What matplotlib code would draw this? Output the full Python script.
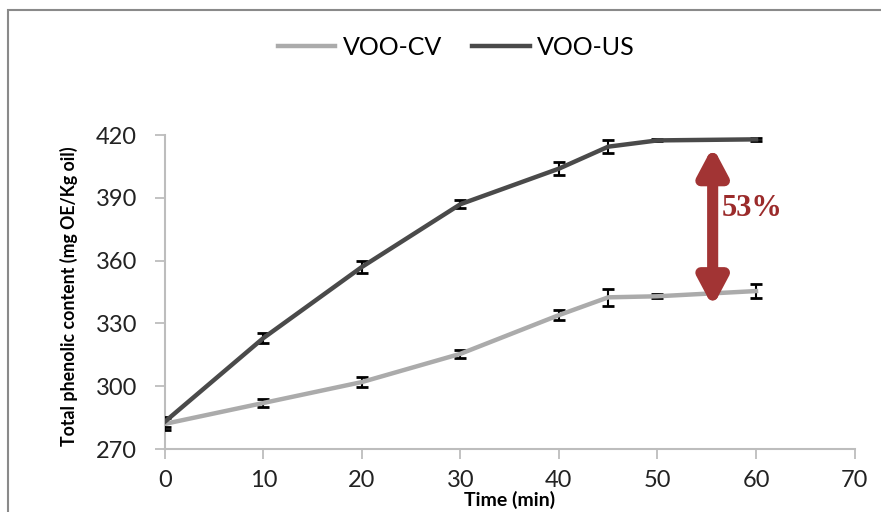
import matplotlib
matplotlib.use("Agg")
import matplotlib.pyplot as plt
from matplotlib.patches import Rectangle
from matplotlib.lines import Line2D

time_min = [0, 10, 20, 30, 40, 45, 50, 60]
voo_cv = [282, 292, 302, 315.5, 334, 342.5, 343, 345.5]
voo_cv_err = [3, 2, 2.5, 2, 2.5, 4, 1, 3.5]
voo_us = [283, 323, 357, 387, 404, 414.5, 417.5, 418]
voo_us_err = [2.5, 2.5, 3, 2, 3, 3, 0.5, 0.8]
x_ticks = [0, 10, 20, 30, 40, 50, 60, 70]
y_ticks = [270, 300, 330, 360, 390, 420]
arrow_x = 55.6
arrow_span = (338, 414.5)
diff_label = "53%"

plt.rcParams['font.family'] = ['Lato', 'DejaVu Sans']

CV_COLOR = '#ababab'
US_COLOR = '#4a4a4a'

fig = plt.figure(figsize=(8.81, 5.12), dpi=100)
ax = fig.add_axes([0.187, 0.123, 0.783, 0.613])

# outer frame
fig.patches.append(Rectangle((8/881, -0.2), 2.0, 1.2 - 10/512,
                             transform=fig.transFigure, fill=False,
                             edgecolor='#8a8a8a', lw=1.5))

ax.errorbar(time_min, voo_cv, yerr=voo_cv_err, color=CV_COLOR, lw=3.2,
            ecolor='black', elinewidth=1.5, capsize=4, capthick=2, zorder=3)
ax.errorbar(time_min, voo_us, yerr=voo_us_err, color=US_COLOR, lw=3.2,
            ecolor='black', elinewidth=1.5, capsize=4, capthick=2, zorder=3)

ax.set_xlim(0, 70)
ax.set_ylim(270, 420)
ax.set_xticks(x_ticks)
ax.set_yticks(y_ticks)
ax.tick_params(axis='both', labelsize=17, colors='#bdbdbd', labelcolor='#222222',
               length=7, width=1.3, direction='out', pad=13)
ax.tick_params(axis='x', pad=8)
for s in ['top', 'right']:
    ax.spines[s].set_visible(False)
for s in ['left', 'bottom']:
    ax.spines[s].set_color('#bdbdbd')
    ax.spines[s].set_linewidth(1.5)

ax.set_xlabel('Time (min)', fontsize=14, fontweight='bold')
ax.set_ylabel('Total phenolic content (mg OE/Kg oil)', fontsize=12.8,
              fontweight='bold')
ax.xaxis.set_label_coords(0.5, -0.135)
ax.yaxis.set_label_coords(-0.126, 0.487)

ax.annotate('', xy=(arrow_x, arrow_span[1]), xytext=(arrow_x, arrow_span[0]),
            arrowprops=dict(arrowstyle='<|-|>,head_length=1.6,head_width=0.85',
                            lw=8, color='#a23434', shrinkA=0, shrinkB=0),
            zorder=4)
ax.text(arrow_x + 0.9, 385, diff_label, family='Liberation Serif',
        fontweight='bold', fontsize=22, color='#9b2b2b', va='center', ha='left')

handles = [Line2D([], [], color=CV_COLOR, lw=3.2),
           Line2D([], [], color=US_COLOR, lw=3.2)]
fig.legend(handles=handles, labels=['VOO-CV', 'VOO-US'], loc='center',
           bbox_to_anchor=(0.518, 0.908), ncol=2, frameon=False,
           fontsize=18, handlelength=2.3, columnspacing=1.2,
           handletextpad=0.3)

fig.savefig('out.png', dpi=100)
